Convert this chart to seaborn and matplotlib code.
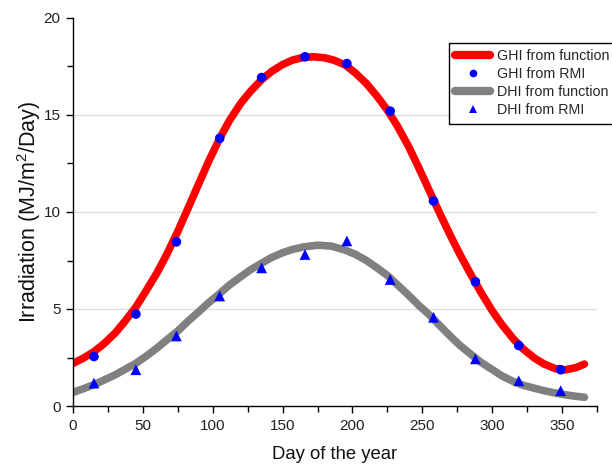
import matplotlib
matplotlib.use("Agg")
import matplotlib.pyplot as plt
import seaborn as sns
import pandas as pd
from matplotlib.ticker import MultipleLocator
from matplotlib.lines import Line2D

# ---- data ----
rmi_days = [15, 45, 74, 105, 135, 166, 196, 227, 258, 288, 319, 349]
ghi_rmi = [2.55, 4.74, 8.46, 13.8, 16.93, 18.0, 17.65, 15.2, 10.57, 6.40, 3.12, 1.87]
dhi_rmi = [1.18, 1.87, 3.61, 5.67, 7.12, 7.81, 8.51, 6.52, 4.57, 2.43, 1.30, 0.79]

ghi_fun_days = [0, 7, 15, 22, 30, 37, 45, 52, 60, 67, 75, 82, 90, 97, 105, 112, 120, 127,
                135, 142, 150, 157, 165, 172, 180, 187, 195, 202, 210, 217, 225, 232, 240,
                247, 255, 262, 270, 277, 285, 292, 300, 307, 315, 322, 330, 337, 345, 352,
                360, 366]
ghi_fun = [2.20, 2.45, 2.80, 3.20, 3.75, 4.35, 5.10, 5.90, 6.85, 7.80, 9.00, 10.14, 11.46,
           12.60, 13.80, 14.72, 15.60, 16.22, 16.82, 17.24, 17.60, 17.83, 17.97, 18.00,
           17.95, 17.82, 17.57, 17.17, 16.62, 16.02, 15.25, 14.45, 13.40, 12.35, 11.10,
           10.00, 8.80, 7.80, 6.74, 5.85, 4.91, 4.19, 3.47, 2.95, 2.48, 2.17, 1.93, 1.86,
           1.98, 2.16]

dhi_fun_days = [0, 7, 15, 22, 30, 37, 45, 52, 60, 67, 75, 82, 90, 97, 105, 112, 120, 127,
                135, 142, 150, 157, 165, 175, 185, 195, 202, 210, 217, 225, 232, 240, 247,
                255, 262, 270, 277, 285, 292, 300, 307, 315, 322, 330, 337, 345, 352, 360,
                366]
dhi_fun = [0.70, 0.88, 1.10, 1.33, 1.60, 1.88, 2.20, 2.55, 2.98, 3.40, 3.87, 4.35, 4.86,
           5.32, 5.80, 6.24, 6.66, 7.02, 7.36, 7.65, 7.90, 8.07, 8.20, 8.29, 8.24, 8.03,
           7.82, 7.50, 7.15, 6.73, 6.26, 5.72, 5.22, 4.70, 4.18, 3.60, 3.12, 2.65, 2.25,
           1.88, 1.55, 1.27, 1.07, 0.92, 0.79, 0.67, 0.58, 0.50, 0.45]

labels = ["GHI from function", "GHI from RMI", "DHI from function", "DHI from RMI"]
x_ticks = [0, 50, 100, 150, 200, 250, 300, 350]
y_ticks = [0, 5, 10, 15, 20]

# ---- style ----
sns.set_theme(style="ticks")
plt.rcParams["font.family"] = ["Liberation Sans", "DejaVu Sans"]
plt.rcParams["mathtext.fontset"] = "custom"
plt.rcParams["mathtext.rm"] = "Liberation Sans"
plt.rcParams["mathtext.it"] = "Liberation Sans:italic"

fig = plt.figure(figsize=(6.12, 4.66), dpi=100)
ax = fig.add_axes([73 / 612, 1 - 406 / 466, (597 - 73) / 612, (406 - 18) / 466])

for v in [5, 10, 15]:
    ax.axhline(v, color="#dddddd", lw=0.9, zorder=0)

df_g = pd.DataFrame({"day": ghi_fun_days, "val": ghi_fun})
df_d = pd.DataFrame({"day": dhi_fun_days, "val": dhi_fun})
sns.lineplot(data=df_g, x="day", y="val", ax=ax, color="#ff0000", linewidth=5.5,
             solid_capstyle="round", solid_joinstyle="round", zorder=2)
sns.lineplot(data=df_d, x="day", y="val", ax=ax, color="#808080", linewidth=5.5,
             solid_capstyle="round", solid_joinstyle="round", zorder=2)

pts = pd.DataFrame({"day": rmi_days, "ghi": ghi_rmi, "dhi": dhi_rmi})
sns.scatterplot(data=pts, x="day", y="ghi", ax=ax, color="#0000ff", marker="o",
                s=48, edgecolor="none", zorder=3)
sns.scatterplot(data=pts, x="day", y="dhi", ax=ax, color="#0000ff", marker="^",
                s=60, edgecolor="none", zorder=3)

ax.set_xlim(0, 375)
ax.set_ylim(0, 20)
ax.set_xticks(x_ticks)
ax.set_yticks(y_ticks)
ax.xaxis.set_minor_locator(MultipleLocator(25))
ax.yaxis.set_minor_locator(MultipleLocator(2.5))
ax.tick_params(which="major", direction="out", length=5, width=1, color="black",
               labelsize=11, labelcolor="#222222", pad=4)
ax.tick_params(which="minor", direction="out", length=4, width=1, color="black")
sns.despine(ax=ax)
for s in ["left", "bottom"]:
    ax.spines[s].set_color("black")
    ax.spines[s].set_linewidth(1)

ax.set_xlabel("Day of the year", fontsize=13.3, color="#111111", labelpad=10)
ax.set_ylabel("Irradiation (MJ/m$^2$/Day)", fontsize=15.5, color="#111111", labelpad=0)

handles = [
    Line2D([], [], color="#ff0000", lw=6, solid_capstyle="round"),
    Line2D([], [], color="#0000ff", marker="o", ls="", markersize=5.5, markeredgewidth=0),
    Line2D([], [], color="#808080", lw=6, solid_capstyle="round"),
    Line2D([], [], color="#0000ff", marker="^", ls="", markersize=6, markeredgewidth=0),
]
leg = fig.legend(handles, labels, loc="upper left",
                 bbox_to_anchor=(449 / 612, 1 - 43 / 466), bbox_transform=fig.transFigure,
                 frameon=True, fancybox=False, edgecolor="black", framealpha=1,
                 fontsize=10.3, handlelength=2.4, handletextpad=0.5, borderpad=0.45,
                 labelspacing=0.28, borderaxespad=0)
leg.get_frame().set_linewidth(1)

fig.savefig("out.png", dpi=100)
